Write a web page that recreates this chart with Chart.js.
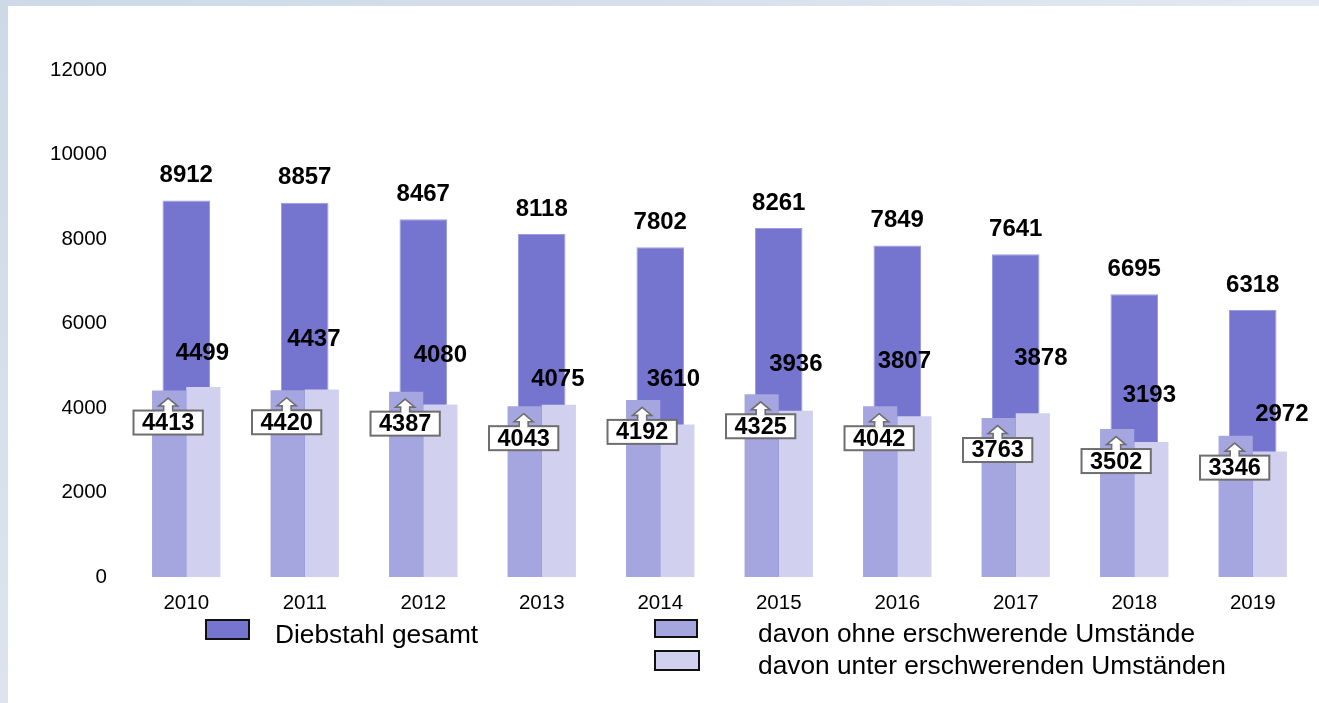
<!DOCTYPE html>
<html>
<head>
<meta charset="utf-8">
<script src="https://cdn.jsdelivr.net/npm/chart.js@4"></script>
<style>
  html, body { margin: 0; padding: 0; background: #fff; }
  #wrap { position: relative; width: 1319px; height: 703px; overflow: hidden; background: #fff; }
  #topband { position: absolute; left: 0; top: 0; width: 1319px; height: 6px;
    background: linear-gradient(to right, #cdd9e7, #d6e0ec 50%, #e3e9f2); }
  #leftband { position: absolute; left: 0; top: 0; width: 8px; height: 703px;
    background: linear-gradient(to bottom, #cdd9e7, #dde4ee); }
  canvas { position: absolute; left: 0; top: 0; }
</style>
</head>
<body>
<div id="wrap">
  <div id="topband"></div>
  <div id="leftband"></div>
  <canvas id="c" width="1319" height="703"></canvas>
</div>
<script>
// ---- data ----
const years = ['2010','2011','2012','2013','2014','2015','2016','2017','2018','2019'];
const gesamt = [8912, 8857, 8467, 8118, 7802, 8261, 7849, 7641, 6695, 6318];
const ohneErschwerend = [4413, 4420, 4387, 4043, 4192, 4325, 4042, 3763, 3502, 3346];
const unterErschwerend = [4499, 4437, 4080, 4075, 3610, 3936, 3807, 3878, 3193, 2972];
const yTicks = [0, 2000, 4000, 6000, 8000, 10000, 12000];
const seriesNames = ['Diebstahl gesamt', 'davon ohne erschwerende Umstände', 'davon unter erschwerenden Umständen'];

// ---- styling (label nudges in pixels, not data) ----
const unterLabelNudgeX = [-1, -8, 0, -1, -4, 0, -10, 8, -2, 12];
const unterLabelNudgeY = [-34, -50, -49, -25, -45, -46, -55, -55, -47, -37];
const COLORS = ['#7575d0', '#a5a5e0', '#d1d1ef'];
const FONT = '"Liberation Sans", Arial, Helvetica, sans-serif';

const labelsPlugin = {
  id: 'labelsPlugin',
  afterDatasetsDraw(chart) {
    const ctx = chart.ctx;
    ctx.save();
    ctx.font = 'bold 24px ' + FONT;
    ctx.textAlign = 'center';
    ctx.textBaseline = 'middle';
    ctx.fillStyle = '#000';
    const mG = chart.getDatasetMeta(0), mO = chart.getDatasetMeta(1), mU = chart.getDatasetMeta(2);
    // totals
    mG.data.forEach((bar, i) => {
      ctx.fillStyle = '#000';
      ctx.fillText(String(gesamt[i]), bar.x, bar.y - 25);
    });
    // unter labels
    mU.data.forEach((bar, i) => {
      ctx.fillStyle = '#000';
      ctx.fillText(String(unterErschwerend[i]), bar.x + unterLabelNudgeX[i], bar.y + unterLabelNudgeY[i]);
    });
    // ohne callouts
    ctx.font = 'bold 23.5px ' + FONT;
    mO.data.forEach((bar, i) => {
      const cx = bar.x - 1;
      const top = bar.y;
      const txt = String(ohneErschwerend[i]);
      const tw = ctx.measureText(txt).width;
      const bw = tw + 17, bh = 24;
      const bx = cx - bw / 2, by = top + 20;
      const tipY = top + 7.5, headY = top + 15.5;
      // arrow
      ctx.beginPath();
      ctx.moveTo(cx, tipY);
      ctx.lineTo(cx + 9.5, headY);
      ctx.lineTo(cx + 4.5, headY);
      ctx.lineTo(cx + 4.5, by + 2);
      ctx.lineTo(cx - 4.5, by + 2);
      ctx.lineTo(cx - 4.5, headY);
      ctx.lineTo(cx - 9.5, headY);
      ctx.closePath();
      ctx.fillStyle = '#fff';
      ctx.fill();
      ctx.lineWidth = 1.6;
      ctx.strokeStyle = '#6e6e6e';
      ctx.stroke();
      // box
      ctx.fillStyle = '#fff';
      ctx.fillRect(bx, by, bw, bh);
      ctx.lineWidth = 2;
      ctx.strokeStyle = '#6e6e6e';
      ctx.strokeRect(bx, by, bw, bh);
      // open the top where the shaft enters
      ctx.fillStyle = '#fff';
      ctx.fillRect(cx - 3.7, by - 1.5, 7.4, 3);
      ctx.fillStyle = '#000';
      ctx.fillText(txt, cx, by + bh / 2 + 1);
    });
    ctx.restore();
  }
};

const legendPlugin = {
  id: 'legendPlugin',
  afterDraw(chart) {
    const ctx = chart.ctx;
    ctx.save();
    const items = [
      { box: [206, 620, 43, 19], tx: 275, ty: 636, c: COLORS[0], t: seriesNames[0] },
      { box: [655, 620, 42, 17], tx: 758, ty: 635, c: COLORS[1], t: seriesNames[1] },
      { box: [655, 651, 44, 19], tx: 758, ty: 667, c: COLORS[2], t: seriesNames[2] }
    ];
    ctx.font = '26.3px ' + FONT;
    ctx.textAlign = 'left';
    ctx.textBaseline = 'middle';
    items.forEach(it => {
      const [x, y, w, h] = it.box;
      ctx.fillStyle = it.c;
      ctx.fillRect(x, y, w, h);
      ctx.lineWidth = 2;
      ctx.strokeStyle = '#111';
      ctx.strokeRect(x, y, w, h);
      ctx.fillStyle = '#000';
      ctx.fillText(it.t, it.tx, it.ty);
    });
    ctx.restore();
  }
};

new Chart(document.getElementById('c'), {
  type: 'bar',
  data: {
    labels: years,
    datasets: [
      { label: seriesNames[0], data: gesamt, backgroundColor: COLORS[0], borderColor: '#9c9ce2', borderWidth: 1,
        grouped: false, categoryPercentage: 1, barPercentage: 0.401, order: 5 },
      { label: seriesNames[1], data: ohneErschwerend, backgroundColor: COLORS[1], borderWidth: 0,
        grouped: true, categoryPercentage: 0.577, barPercentage: 1, order: 1 },
      { label: seriesNames[2], data: unterErschwerend, backgroundColor: COLORS[2], borderWidth: 0,
        grouped: true, categoryPercentage: 0.577, barPercentage: 1, order: 2 }
    ]
  },
  options: {
    responsive: false,
    animation: false,
    events: [],
    layout: { padding: { left: 0, right: 7, top: 70, bottom: 86 } },
    plugins: { legend: { display: false }, tooltip: { enabled: false } },
    scales: {
      x: {
        type: 'category',
        offset: true,
        grid: { display: false, drawTicks: false },
        border: { display: false },
        ticks: { color: '#000', font: { family: FONT, size: 20.5 }, padding: 14, maxRotation: 0 },
        afterFit(s) { s.height = 40; }
      },
      y: {
        min: 0, max: 12000,
        grid: { display: false, drawTicks: false },
        border: { display: false },
        afterBuildTicks(s) { s.ticks = yTicks.map(v => ({ value: v })); },
        ticks: { color: '#000', font: { family: FONT, size: 20.5 }, padding: 20, callback: v => String(v) },
        afterFit(s) { s.width = 127; }
      }
    }
  },
  plugins: [labelsPlugin, legendPlugin]
});
</script>
</body>
</html>
